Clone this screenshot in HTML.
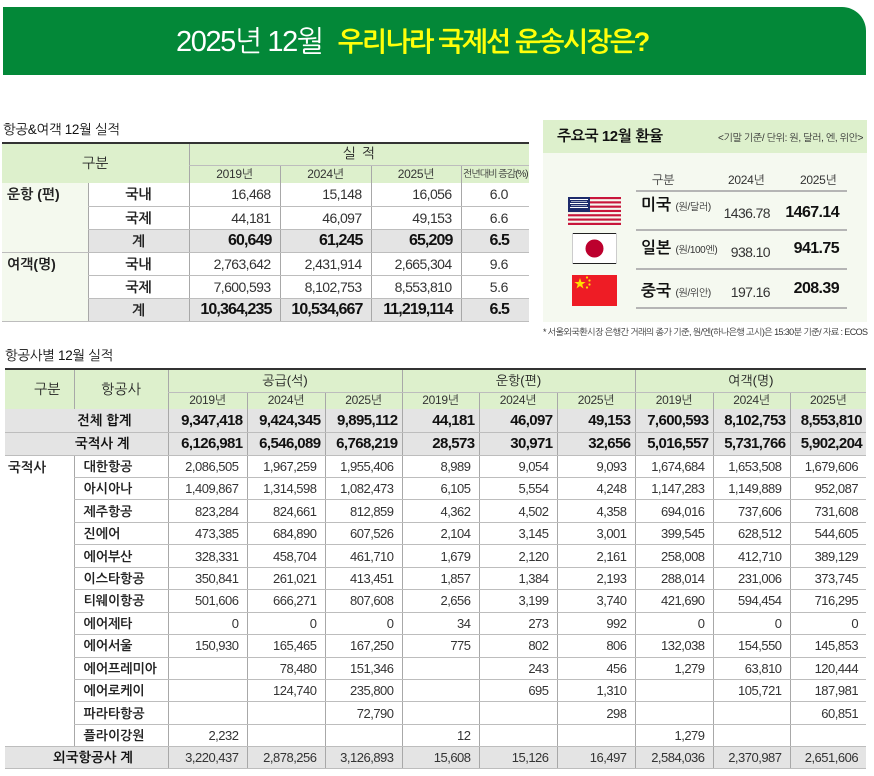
<!DOCTYPE html>
<html><head><meta charset="utf-8">
<style>
*{margin:0;padding:0;box-sizing:border-box}
body{width:874px;height:776px;background:#fff;position:relative;overflow:hidden;font-family:"Liberation Sans","NanumGothic","Noto Sans CJK KR",sans-serif;color:#222}
.abs{position:absolute;white-space:nowrap}
.banner{position:absolute;left:3px;top:7px;width:863px;height:68px;background:#038838;border-top-right-radius:24px}
.h2{position:absolute;font-size:13.5px;color:#111;letter-spacing:-0.3px;white-space:nowrap}
table{position:absolute;border-collapse:collapse;table-layout:fixed}
td{padding:0;white-space:nowrap;vertical-align:middle;overflow:hidden}
.t1 td{border-left:1px solid #a8a8a8;border-bottom:1px solid #bdbdbd}
.t1{border-top:2px solid #333}
.hd{background:#DDF0CC;text-align:center;font-size:14px;color:#222}
.yr{font-size:12px;color:#333;letter-spacing:-0.3px}
.lab{background:#F4F9EE;vertical-align:top;text-align:left;padding:3px 0 0 5px !important;font-size:14px;font-weight:bold;color:#222;border-left:none !important}
.nm{text-align:center;font-size:14px;font-weight:bold;color:#222}
.t1 .n{text-align:right;padding-right:9px;font-size:14px;letter-spacing:-0.6px;color:#333}
.t1 .p{text-align:right;padding-right:21px;font-size:14px;letter-spacing:-0.4px;color:#333}
.t1 .g{background:#E4E4E4}
.t1 .b{font-size:16px;font-weight:bold;letter-spacing:-0.9px;color:#111;padding-right:8px}
.t2{border-top:2px solid #333}
.t2 td{border-left:1px solid #a8a8a8;border-bottom:1px solid #bdbdbd}
.t2 .n{text-align:right;padding-right:8px;font-size:13px;letter-spacing:-0.5px;color:#333}
.t2 .bn{text-align:right;padding-right:4px;font-size:15px;font-weight:bold;letter-spacing:-0.6px;color:#111}
.t2 .g{background:#E4E4E4}
.t2 .air{text-align:left;padding-left:9px;font-size:13px;font-weight:bold;color:#222}
.t2 .tl{text-align:left;font-size:13.5px;font-weight:bold;color:#111}
.panel{position:absolute;left:543px;top:120px;width:324px;height:202px;background:#F5F9F0}
.panel .ph{position:absolute;left:0;top:0;width:324px;height:33px;background:#DDF0CC}
.line{position:absolute;left:636px;width:211px;height:2px;background:#b5b5b5}
</style></head><body>

<div class="banner"></div>
<div class="abs" style="left:176px;top:24px;font-size:29px;line-height:36px;color:#fff;letter-spacing:-1.4px">2025년 12월</div>
<div class="abs" style="left:338px;top:24px;font-size:27px;line-height:36px;color:#FFFF0A;font-weight:bold;letter-spacing:-1.7px">우리나라 국제선 운송시장은?</div>

<!-- top-left table -->
<div class="h2" style="left:3px;top:121px">항공&amp;여객 12월 실적</div>
<table class="t1" style="left:2px;top:142px;width:527px">
<colgroup><col style="width:86px"><col style="width:101px"><col style="width:91px"><col style="width:91px"><col style="width:90px"><col style="width:68px"></colgroup>
<tr style="height:22px"><td colspan="2" rowspan="2" class="hd" style="border-left:none;border-bottom:none">구분</td><td colspan="4" class="hd" style="letter-spacing:1px">실 적</td></tr>
<tr style="height:18px"><td class="hd yr" style="border-bottom:none">2019년</td><td class="hd yr" style="border-bottom:none">2024년</td><td class="hd yr" style="border-bottom:none">2025년</td><td class="hd yr" style="border-bottom:none;font-size:10px;letter-spacing:-1px">전년대비 증감(%)</td></tr>
<tr style="height:23px"><td rowspan="3" class="lab">운항 (편)</td><td class="nm">국내</td><td class="n">16,468</td><td class="n">15,148</td><td class="n">16,056</td><td class="p">6.0</td></tr>
<tr style="height:23px"><td class="nm">국제</td><td class="n">44,181</td><td class="n">46,097</td><td class="n">49,153</td><td class="p">6.6</td></tr>
<tr style="height:23px"><td class="nm g">계</td><td class="n g b">60,649</td><td class="n g b">61,245</td><td class="n g b">65,209</td><td class="p g b" style="padding-right:20px">6.5</td></tr>
<tr style="height:23px"><td rowspan="3" class="lab">여객(명)</td><td class="nm">국내</td><td class="n">2,763,642</td><td class="n">2,431,914</td><td class="n">2,665,304</td><td class="p">9.6</td></tr>
<tr style="height:23px"><td class="nm">국제</td><td class="n">7,600,593</td><td class="n">8,102,753</td><td class="n">8,553,810</td><td class="p">5.6</td></tr>
<tr style="height:23px"><td class="nm g">계</td><td class="n g b">10,364,235</td><td class="n g b">10,534,667</td><td class="n g b">11,219,114</td><td class="p g b" style="padding-right:20px">6.5</td></tr>
</table>

<!-- exchange panel -->
<div class="panel"><div class="ph"></div></div>
<div class="abs" style="left:557px;top:128px;font-size:15px;font-weight:bold;color:#111;letter-spacing:-0.4px">주요국 12월 환율</div>
<div class="abs" style="left:718px;top:132px;font-size:10px;color:#333;letter-spacing:-0.4px">&lt;기말 기준/ 단위: 원, 달러, 엔, 위안&gt;</div>
<div class="abs" style="left:652px;top:173px;font-size:12px;color:#333">구분</div>
<div class="abs" style="left:728px;top:173px;font-size:12px;color:#333;letter-spacing:-0.3px">2024년</div>
<div class="abs" style="left:800px;top:173px;font-size:12px;color:#333;letter-spacing:-0.3px">2025년</div>
<div class="line" style="top:190px"></div>
<div class="line" style="top:229px"></div>
<div class="line" style="top:268px"></div>
<div class="line" style="top:307px"></div>

<svg class="abs" style="left:568px;top:197px" width="53" height="28" viewBox="0 0 53 28">
<g fill="#C8163B">
<rect x="0" y="0" width="53" height="2.15"/><rect x="0" y="4.3" width="53" height="2.15"/><rect x="0" y="8.6" width="53" height="2.15"/><rect x="0" y="12.9" width="53" height="2.15"/><rect x="0" y="17.2" width="53" height="2.15"/><rect x="0" y="21.5" width="53" height="2.15"/><rect x="0" y="25.8" width="53" height="2.2"/>
</g>
<rect x="0" y="0" width="22" height="15" fill="#1D2B6B"/>
<g fill="#fff"><rect x="2" y="2" width="18" height="1"/><rect x="2" y="6" width="18" height="1"/><rect x="2" y="10" width="18" height="1"/><rect x="3" y="4" width="16" height="1" opacity=".6"/><rect x="3" y="8" width="16" height="1" opacity=".6"/></g>
</svg>
<svg class="abs" style="left:572px;top:233px" width="45" height="31" viewBox="0 0 45 31">
<rect x="0" y="0" width="45" height="31" fill="#fff"/>
<rect x="0" y="0" width="45" height="1" fill="#222"/><rect x="0" y="30" width="45" height="1" fill="#222"/>
<rect x="0" y="0" width="1" height="31" fill="#ccc"/><rect x="44" y="0" width="1" height="31" fill="#ccc"/>
<circle cx="22.5" cy="15.5" r="9" fill="#BC002D"/>
</svg>
<svg class="abs" style="left:572px;top:275px" width="45" height="31" viewBox="0 0 45 31">
<rect x="0" y="0" width="45" height="31" fill="#EE1C25"/>
<polygon fill="#FFDE00" points="8,3 9.4,7 13.6,7 10.2,9.5 11.5,13.5 8,11 4.5,13.5 5.8,9.5 2.4,7 6.6,7"/>
<circle cx="15" cy="2.5" r="1.1" fill="#FFDE00"/><circle cx="17.5" cy="5.5" r="1.1" fill="#FFDE00"/><circle cx="17.5" cy="9.5" r="1.1" fill="#FFDE00"/><circle cx="15" cy="12.5" r="1.1" fill="#FFDE00"/>
</svg>

<div class="abs" style="left:641px;top:197px;font-size:16px;font-weight:bold;color:#111">미국 <span style="font-size:10px;font-weight:normal;color:#333;letter-spacing:-0.4px">(원/달러)</span></div>
<div class="abs" style="left:641px;top:240px;font-size:16px;font-weight:bold;color:#111">일본 <span style="font-size:10px;font-weight:normal;color:#333;letter-spacing:-0.4px">(원/100엔)</span></div>
<div class="abs" style="left:641px;top:283px;font-size:16px;font-weight:bold;color:#111">중국 <span style="font-size:10px;font-weight:normal;color:#333;letter-spacing:-0.4px">(원/위안)</span></div>

<div class="abs" style="right:104px;top:205px;font-size:14px;color:#333;letter-spacing:-0.6px">1436.78</div>
<div class="abs" style="right:104px;top:244px;font-size:14px;color:#333;letter-spacing:-0.6px">938.10</div>
<div class="abs" style="right:104px;top:284px;font-size:14px;color:#333;letter-spacing:-0.6px">197.16</div>
<div class="abs" style="right:35px;top:204px;font-size:16px;font-weight:bold;color:#111;letter-spacing:-0.6px">1467.14</div>
<div class="abs" style="right:35px;top:240px;font-size:16px;font-weight:bold;color:#111;letter-spacing:-0.6px">941.75</div>
<div class="abs" style="right:35px;top:280px;font-size:16px;font-weight:bold;color:#111;letter-spacing:-0.6px">208.39</div>

<div class="abs" style="left:543px;top:327px;font-size:9px;color:#333;letter-spacing:-0.6px">* 서울외국환시장 은행간 거래의 종가 기준, 원/엔(하나은행 고시)은 15:30분 기준/ 자료 : ECOS</div>

<!-- bottom table -->
<div class="h2" style="left:5px;top:347px">항공사별 12월 실적</div>
<table class="t2" style="left:5px;top:368px;width:861px">
<colgroup><col style="width:69px"><col style="width:94px"><col style="width:79px"><col style="width:78px"><col style="width:77px"><col style="width:77px"><col style="width:78px"><col style="width:78px"><col style="width:78px"><col style="width:77px"><col style="width:76px"></colgroup>
<tr style="height:23px"><td rowspan="2" class="hd" style="border-left:none;padding-left:16px;border-bottom:none">구분</td><td rowspan="2" class="hd" style="border-bottom:none">항공사</td><td colspan="3" class="hd" style="font-size:13px">공급(석)</td><td colspan="3" class="hd" style="font-size:13px">운항(편)</td><td colspan="3" class="hd" style="font-size:13px">여객(명)</td></tr>
<tr style="height:17px"><td class="hd yr" style="border-bottom:none">2019년</td><td class="hd yr" style="border-bottom:none">2024년</td><td class="hd yr" style="border-bottom:none">2025년</td><td class="hd yr" style="border-bottom:none">2019년</td><td class="hd yr" style="border-bottom:none">2024년</td><td class="hd yr" style="border-bottom:none">2025년</td><td class="hd yr" style="border-bottom:none">2019년</td><td class="hd yr" style="border-bottom:none">2024년</td><td class="hd yr" style="border-bottom:none">2025년</td></tr>
<tr style="height:23px"><td colspan="2" class="g tl" style="border-left:none;padding-left:72px">전체 합계</td><td class="g bn">9,347,418</td><td class="g bn">9,424,345</td><td class="g bn">9,895,112</td><td class="g bn">44,181</td><td class="g bn">46,097</td><td class="g bn">49,153</td><td class="g bn">7,600,593</td><td class="g bn">8,102,753</td><td class="g bn">8,553,810</td></tr>
<tr style="height:23px"><td colspan="2" class="g tl" style="border-left:none;padding-left:70px">국적사 계</td><td class="g bn">6,126,981</td><td class="g bn">6,546,089</td><td class="g bn">6,768,219</td><td class="g bn">28,573</td><td class="g bn">30,971</td><td class="g bn">32,656</td><td class="g bn">5,016,557</td><td class="g bn">5,731,766</td><td class="g bn">5,902,204</td></tr>
<tr style="height:22.46px"><td rowspan="13" style="border-left:none;vertical-align:top;padding:3px 0 0 3px;font-size:13.5px;font-weight:bold;line-height:17px">국적사</td><td class="air">대한항공</td><td class="n">2,086,505</td><td class="n">1,967,259</td><td class="n">1,955,406</td><td class="n">8,989</td><td class="n">9,054</td><td class="n">9,093</td><td class="n">1,674,684</td><td class="n">1,653,508</td><td class="n">1,679,606</td></tr>
<tr style="height:22.46px"><td class="air">아시아나</td><td class="n">1,409,867</td><td class="n">1,314,598</td><td class="n">1,082,473</td><td class="n">6,105</td><td class="n">5,554</td><td class="n">4,248</td><td class="n">1,147,283</td><td class="n">1,149,889</td><td class="n">952,087</td></tr>
<tr style="height:22.46px"><td class="air">제주항공</td><td class="n">823,284</td><td class="n">824,661</td><td class="n">812,859</td><td class="n">4,362</td><td class="n">4,502</td><td class="n">4,358</td><td class="n">694,016</td><td class="n">737,606</td><td class="n">731,608</td></tr>
<tr style="height:22.46px"><td class="air">진에어</td><td class="n">473,385</td><td class="n">684,890</td><td class="n">607,526</td><td class="n">2,104</td><td class="n">3,145</td><td class="n">3,001</td><td class="n">399,545</td><td class="n">628,512</td><td class="n">544,605</td></tr>
<tr style="height:22.46px"><td class="air">에어부산</td><td class="n">328,331</td><td class="n">458,704</td><td class="n">461,710</td><td class="n">1,679</td><td class="n">2,120</td><td class="n">2,161</td><td class="n">258,008</td><td class="n">412,710</td><td class="n">389,129</td></tr>
<tr style="height:22.46px"><td class="air">이스타항공</td><td class="n">350,841</td><td class="n">261,021</td><td class="n">413,451</td><td class="n">1,857</td><td class="n">1,384</td><td class="n">2,193</td><td class="n">288,014</td><td class="n">231,006</td><td class="n">373,745</td></tr>
<tr style="height:22.46px"><td class="air">티웨이항공</td><td class="n">501,606</td><td class="n">666,271</td><td class="n">807,608</td><td class="n">2,656</td><td class="n">3,199</td><td class="n">3,740</td><td class="n">421,690</td><td class="n">594,454</td><td class="n">716,295</td></tr>
<tr style="height:22.46px"><td class="air">에어제타</td><td class="n">0</td><td class="n">0</td><td class="n">0</td><td class="n">34</td><td class="n">273</td><td class="n">992</td><td class="n">0</td><td class="n">0</td><td class="n">0</td></tr>
<tr style="height:22.46px"><td class="air">에어서울</td><td class="n">150,930</td><td class="n">165,465</td><td class="n">167,250</td><td class="n">775</td><td class="n">802</td><td class="n">806</td><td class="n">132,038</td><td class="n">154,550</td><td class="n">145,853</td></tr>
<tr style="height:22.46px"><td class="air">에어프레미아</td><td class="n"></td><td class="n">78,480</td><td class="n">151,346</td><td class="n"></td><td class="n">243</td><td class="n">456</td><td class="n">1,279</td><td class="n">63,810</td><td class="n">120,444</td></tr>
<tr style="height:22.46px"><td class="air">에어로케이</td><td class="n"></td><td class="n">124,740</td><td class="n">235,800</td><td class="n"></td><td class="n">695</td><td class="n">1,310</td><td class="n"></td><td class="n">105,721</td><td class="n">187,981</td></tr>
<tr style="height:22.46px"><td class="air">파라타항공</td><td class="n"></td><td class="n"></td><td class="n">72,790</td><td class="n"></td><td class="n"></td><td class="n">298</td><td class="n"></td><td class="n"></td><td class="n">60,851</td></tr>
<tr style="height:22.46px"><td class="air">플라이강원</td><td class="n">2,232</td><td class="n"></td><td class="n"></td><td class="n">12</td><td class="n"></td><td class="n"></td><td class="n">1,279</td><td class="n"></td><td class="n"></td></tr>
<tr style="height:22px"><td colspan="2" class="g tl" style="border-left:none;padding-left:48px">외국항공사 계</td><td class="g n">3,220,437</td><td class="g n">2,878,256</td><td class="g n">3,126,893</td><td class="g n">15,608</td><td class="g n">15,126</td><td class="g n">16,497</td><td class="g n">2,584,036</td><td class="g n">2,370,987</td><td class="g n">2,651,606</td></tr>
</table>

</body></html>
